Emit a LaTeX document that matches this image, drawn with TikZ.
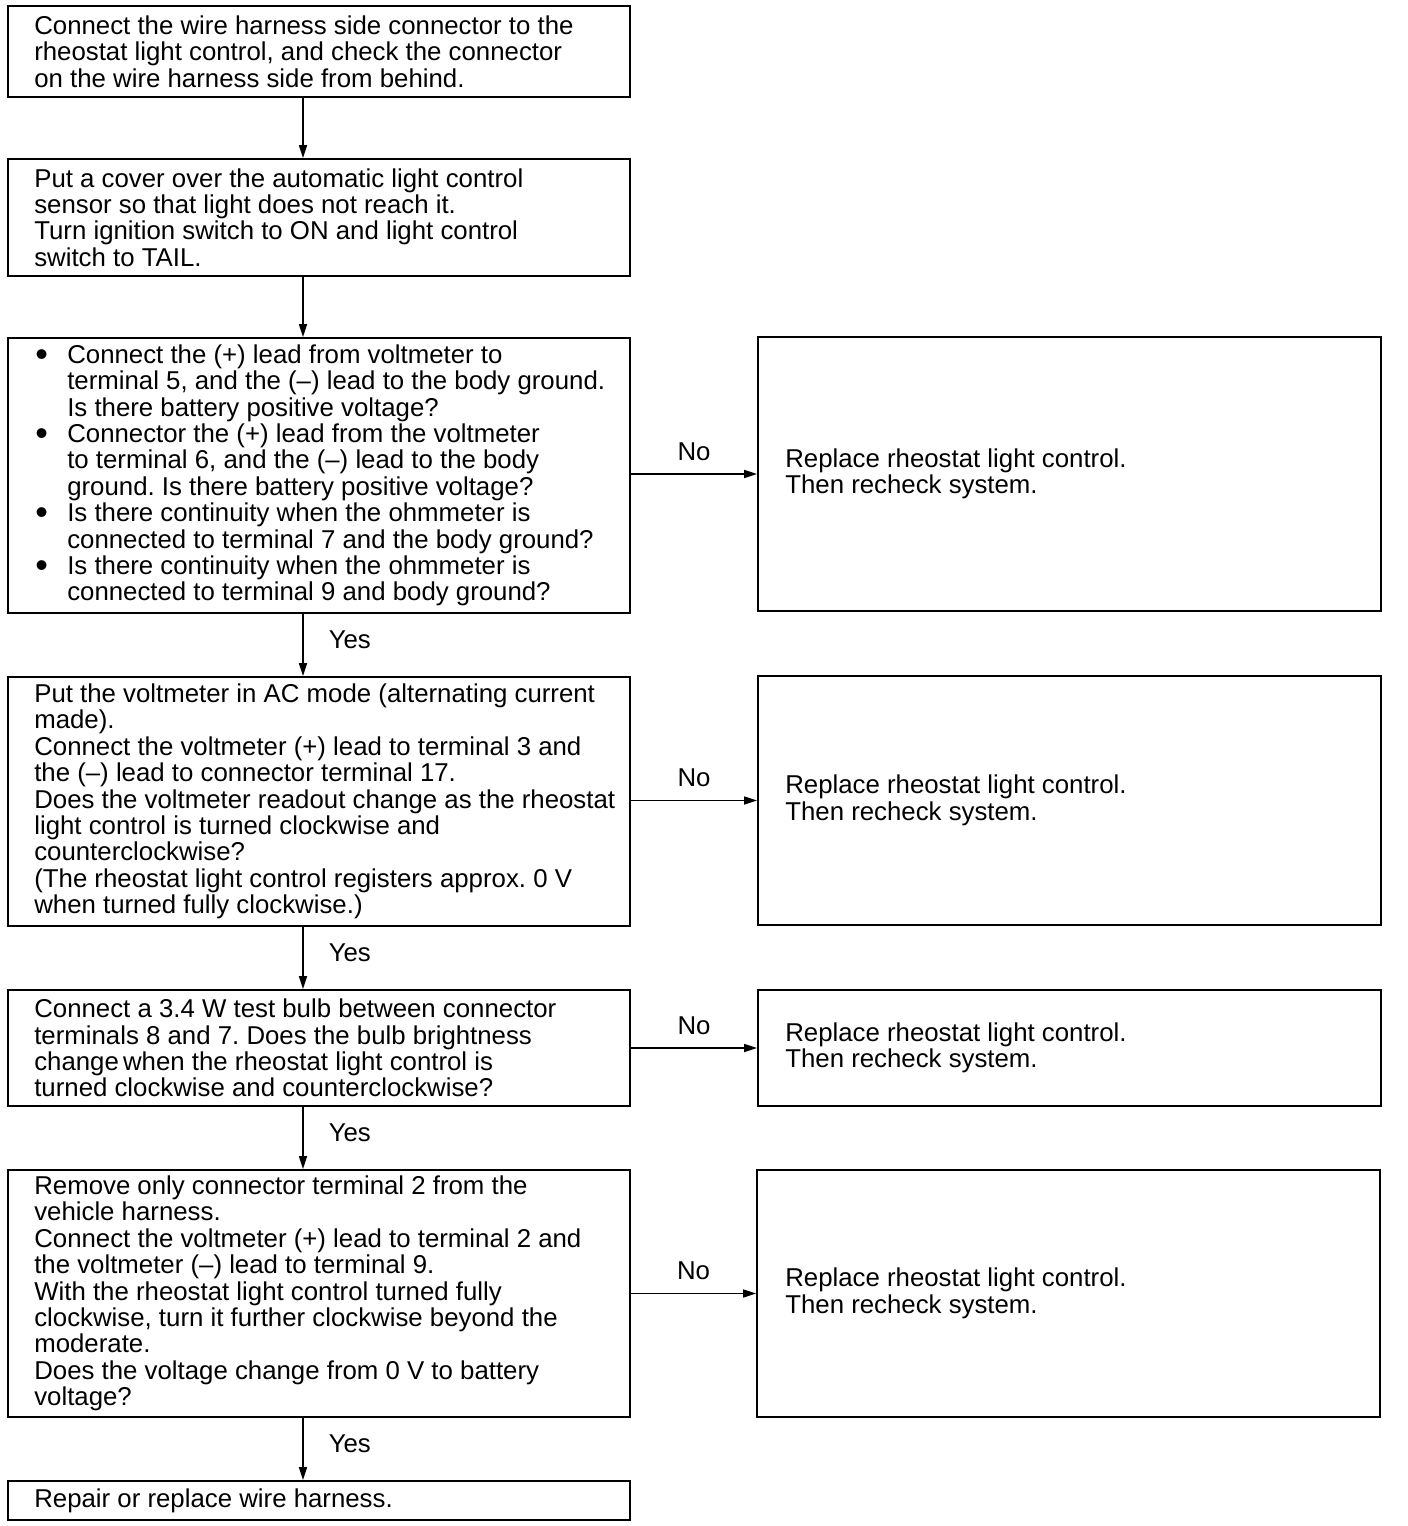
\documentclass[tikz,border=0pt]{standalone}
\usepackage{fontspec}
\setmainfont{Liberation Sans}
\usetikzlibrary{arrows.meta}
\frenchspacing
\newcommand{\bl}{\makebox[32pt][l]{\raisebox{-3pt}{\fontsize{36}{26}\selectfont\textbullet}}}
\newcommand{\ind}{\hspace*{32pt}}
\begin{document}
\begin{tikzpicture}[x=1pt,y=-1pt,
  box/.style={draw, line width=1.8pt, rectangle, inner sep=0pt, minimum width=622pt},
  rbox/.style={draw, line width=1.8pt, rectangle, inner sep=0pt, minimum width=623pt},
  txt/.style={inner sep=0pt, anchor=west, align=left, font=\fontsize{25.8}{26.4}\selectfont},
  lbl/.style={inner sep=0pt, font=\fontsize{25.8}{26.4}\selectfont},
  arr/.style={line width=1.5pt, -{Triangle[length=13pt,width=8pt]}}]
\useasboundingbox (0,0) rectangle (1408,1526);
\fill[white] (0,0) rectangle (1408,1526);
\coordinate (ax) at (303,0);

\node[box, minimum height=91pt] (b1) at (319,51.5) {};
\node[box, minimum height=117pt] (b2) at (319,217.5) {};
\node[box, minimum height=275pt] (b3) at (319,475.5) {};
\node[box, minimum height=249pt] (b4) at (319,801.5) {};
\node[box, minimum height=116pt] (b5) at (319,1048) {};
\node[box, minimum height=247pt] (b6) at (319,1293.5) {};
\node[box, minimum height=39pt] (b7) at (319,1500.5) {};

\node[rbox, minimum height=274pt] (r1) at (1069.5,474) {};
\node[rbox, minimum height=249pt] (r2) at (1069.5,800.5) {};
\node[rbox, minimum height=116pt] (r3) at (1069.5,1048) {};
\node[rbox, minimum height=247pt] (r4) at (1068.5,1293.5) {};

\node[txt] (t1) at ([xshift=27pt]b1.west) {Connect the wire harness side connector to the\\rheostat light control, and check the connector\\on the wire harness side from behind.};
\node[txt] (t2) at ([xshift=27pt]b2.west) {Put a cover over the automatic light control\\sensor so that light does not reach it.\\Turn ignition switch to ON and light control\\switch to TAIL.};
\node[txt] (t3) at ([xshift=28pt]b3.west) {\bl Connect the (+) lead from voltmeter to\\\ind terminal 5, and the (–) lead to the body ground.\\\ind Is there battery positive voltage?\\\bl Connector the (+) lead from the voltmeter\\\ind to terminal 6, and the (–) lead to the body\\\ind ground. Is there battery positive voltage?\\\bl Is there continuity when the ohmmeter is\\\ind connected to terminal 7 and the body ground?\\\bl Is there continuity when the ohmmeter is\\\ind connected to terminal 9 and body ground?};
\node[txt] (t4) at ([xshift=27pt]b4.west) {Put the voltmeter in AC mode (alternating current\\made).\\Connect the voltmeter (+) lead to terminal 3 and\\the (–) lead to connector terminal 17.\\Does the voltmeter readout change as the rheostat\\light control is turned clockwise and\\counterclockwise?\\(The rheostat light control registers approx. 0 V\\when turned fully clockwise.)};
\node[txt] (t5) at ([xshift=27pt]b5.west) {Connect a 3.4 W test bulb between connector\\terminals 8 and 7. Does the bulb brightness\\change\hspace{-3pt} when the rheostat light control is\\turned clockwise and counterclockwise?};
\node[txt] (t6) at ([xshift=27pt]b6.west) {Remove only connector terminal 2 from the\\vehicle harness.\\Connect the voltmeter (+) lead to terminal 2 and\\the voltmeter (–) lead to terminal 9.\\With the rheostat light control turned fully\\clockwise, turn it further clockwise beyond the\\moderate.\\Does the voltage change from 0 V to battery\\voltage?};
\node[txt] (t7) at ([xshift=27pt]b7.west) {Repair or replace wire harness.};

\node[txt] (s1) at ([xshift=28pt]r1.west) {Replace rheostat light control.\\Then recheck system.};
\node[txt] (s2) at ([xshift=28pt]r2.west) {Replace rheostat light control.\\Then recheck system.};
\node[txt] (s3) at ([xshift=28pt]r3.west) {Replace rheostat light control.\\Then recheck system.};
\node[txt] (s4) at ([xshift=29pt]r4.west) {Replace rheostat light control.\\Then recheck system.};

\draw[arr] (b1.south -| ax) -- (b2.north -| ax);
\draw[arr] (b2.south -| ax) -- (b3.north -| ax);
\draw[arr] (b3.south -| ax) -- (b4.north -| ax) node[lbl, midway, anchor=west, xshift=25pt, yshift=5pt] {Yes};
\draw[arr] (b4.south -| ax) -- (b5.north -| ax) node[lbl, midway, anchor=west, xshift=25pt, yshift=5pt] {Yes};
\draw[arr] (b5.south -| ax) -- (b6.north -| ax) node[lbl, midway, anchor=west, xshift=25pt, yshift=5pt] {Yes};
\draw[arr] (b6.south -| ax) -- (b7.north -| ax) node[lbl, midway, anchor=west, xshift=25pt, yshift=5pt] {Yes};

\draw[arr] (r1.west -| b3.east) -- (r1.west) node[lbl, midway, anchor=south, yshift=13pt] {No};
\draw[arr] (r2.west -| b4.east) -- (r2.west) node[lbl, midway, anchor=south, yshift=13pt] {No};
\draw[arr] (r3.west -| b5.east) -- (r3.west) node[lbl, midway, anchor=south, yshift=13pt] {No};
\draw[arr] (r4.west -| b6.east) -- (r4.west) node[lbl, midway, anchor=south, yshift=13pt] {No};
\end{tikzpicture}
\end{document}
